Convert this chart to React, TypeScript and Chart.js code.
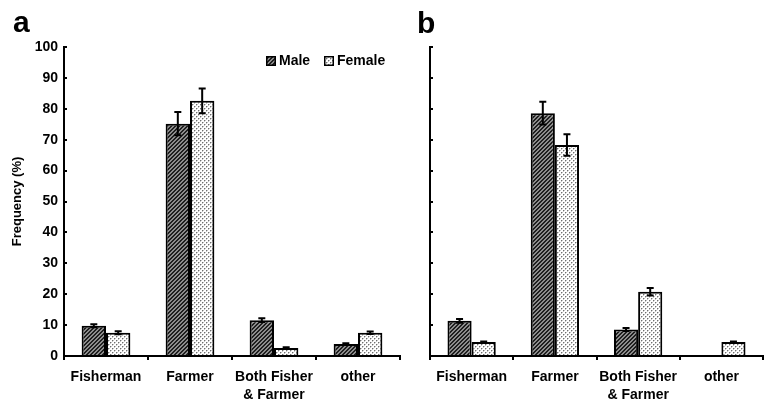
import React, { useEffect, useRef } from "react";
import { Chart, registerables } from "chart.js";

Chart.register(...registerables);

const categories: (string | string[])[] = ["Fisherman", "Farmer", ["Both Fisher", "& Farmer"], "other"];
const seriesLabels = ["Male", "Female"];
const maleA = [9.8, 75.2, 11.6, 3.9];
const maleAErr = [0.5, 3.8, 0.6, 0.2];
const femaleA = [7.5, 82.6, 2.6, 7.5];
const femaleAErr = [0.5, 4.0, 0.2, 0.4];
const maleB = [11.4, 78.6, 8.6, 0];
const maleBErr = [0.6, 3.7, 0.5, 0];
const femaleB = [4.5, 68.3, 20.8, 4.5];
const femaleBErr = [0.2, 3.5, 1.2, 0.2];
const yTicks = { min: 0, max: 100, step: 10 };
const yTitle = "Frequency (%)";
const panelLetters = ["a", "b"];

const FONT = "'Liberation Sans', Arial, Helvetica, sans-serif";

function makeMalePattern(): CanvasPattern | string {
  const c = document.createElement("canvas");
  c.width = 4;
  c.height = 4;
  const ctx = c.getContext("2d");
  if (!ctx) return "#555";
  ctx.fillStyle = "#8c8c8c";
  ctx.fillRect(0, 0, 4, 4);
  ctx.fillStyle = "#1e1e1e";
  for (let x = 0; x < 4; x++) {
    for (let y = 0; y < 4; y++) {
      const m = (x + y) % 4;
      if (m === 0 || m === 1) ctx.fillRect(x, y, 1, 1);
    }
  }
  return ctx.createPattern(c, "repeat") || "#555";
}

function makeFemalePattern(): CanvasPattern | string {
  const c = document.createElement("canvas");
  c.width = 4;
  c.height = 4;
  const ctx = c.getContext("2d");
  if (!ctx) return "#ddd";
  ctx.fillStyle = "#ffffff";
  ctx.fillRect(0, 0, 4, 4);
  ctx.fillStyle = "#707070";
  ctx.fillRect(0, 0, 1, 1);
  ctx.fillRect(2, 2, 1, 1);
  ctx.fillStyle = "#c4c4c4";
  ctx.fillRect(1, 0, 1, 1);
  ctx.fillRect(3, 2, 1, 1);
  ctx.fillRect(0, 1, 1, 1);
  ctx.fillRect(2, 3, 1, 1);
  return ctx.createPattern(c, "repeat") || "#ddd";
}

const errorBarPlugin = {
  id: "errorBars",
  afterDatasetsDraw(chart: any, _args: any, opts: any) {
    const errs: number[][] = opts.errors || [];
    const ctx = chart.ctx;
    const yScale = chart.scales.y;
    ctx.save();
    ctx.strokeStyle = "#000";
    ctx.lineWidth = 2;
    chart.data.datasets.forEach((ds: any, i: number) => {
      const meta = chart.getDatasetMeta(i);
      meta.data.forEach((el: any, j: number) => {
        const v = ds.data[j];
        const e = errs[i] ? errs[i][j] : 0;
        if (!e || v === null || v === undefined) return;
        const x = el.x;
        const yt = yScale.getPixelForValue(v + e);
        const yb = yScale.getPixelForValue(v - e);
        const cap = 3.5;
        ctx.beginPath();
        ctx.moveTo(x, yt);
        ctx.lineTo(x, yb);
        ctx.moveTo(x - cap, yt);
        ctx.lineTo(x + cap, yt);
        ctx.moveTo(x - cap, yb);
        ctx.lineTo(x + cap, yb);
        ctx.stroke();
      });
    });
    ctx.restore();
  },
};

const letterPlugin = {
  id: "panelLetter",
  afterDraw(chart: any, _args: any, opts: any) {
    if (!opts.text) return;
    const ctx = chart.ctx;
    ctx.save();
    ctx.fillStyle = "#000";
    ctx.font = `bold 30px ${FONT}`;
    ctx.textAlign = "left";
    ctx.textBaseline = "alphabetic";
    ctx.fillText(opts.text, opts.x, opts.y);
    ctx.restore();
  },
};

const legendPlugin = {
  id: "innerLegend",
  afterDraw(chart: any, _args: any, opts: any) {
    if (!opts.show) return;
    const ctx = chart.ctx;
    const area = chart.chartArea;
    const items = chart.data.datasets;
    const y = area.top + 14;
    const positions = [area.left + 202, area.left + 260];
    ctx.save();
    items.forEach((ds: any, i: number) => {
      const bx = positions[i];
      ctx.fillStyle = ds.backgroundColor;
      ctx.fillRect(bx, y - 5, 10, 10);
      ctx.strokeStyle = "#000";
      ctx.lineWidth = 1.5;
      ctx.strokeRect(bx + 0.75, y - 4.25, 8.5, 8.5);
      ctx.fillStyle = "#000";
      ctx.font = `bold 14px ${FONT}`;
      ctx.textAlign = "left";
      ctx.textBaseline = "middle";
      ctx.fillText(ds.label, bx + 13, y + 0.5);
    });
    ctx.restore();
  },
};

function buildConfig(
  male: number[],
  maleErr: number[],
  female: number[],
  femaleErr: number[],
  showLabels: boolean,
  axisWidth: number,
  padRight: number,
  letter: string,
  letterX: number,
  letterY: number
): any {
  const malePat = makeMalePattern();
  const femalePat = makeFemalePattern();
  return {
    type: "bar",
    data: {
      labels: categories,
      datasets: [
        {
          label: seriesLabels[0],
          data: male,
          backgroundColor: malePat,
          borderColor: "#000",
          borderWidth: 2,
          categoryPercentage: 0.58,
          barPercentage: 1.0,
        },
        {
          label: seriesLabels[1],
          data: female,
          backgroundColor: femalePat,
          borderColor: "#000",
          borderWidth: 2,
          categoryPercentage: 0.58,
          barPercentage: 1.0,
        },
      ],
    },
    options: {
      responsive: false,
      animation: false,
      layout: { padding: { left: 0, right: padRight, top: 47, bottom: 0 } },
      plugins: {
        legend: { display: false },
        tooltip: { enabled: false },
        errorBars: { errors: [maleErr, femaleErr] },
        panelLetter: { text: letter, x: letterX, y: letterY },
        innerLegend: { show: showLabels },
      },
      scales: {
        x: {
          grid: {
            display: true,
            drawOnChartArea: false,
            drawTicks: true,
            tickLength: 4,
            color: "#000",
            lineWidth: 2,
            offset: true,
          },
          border: { display: true, color: "#000", width: 2 },
          ticks: {
            color: "#000",
            font: { family: FONT, size: 14, weight: "bold", lineHeight: 1.3 },
            padding: 8,
            maxRotation: 0,
            autoSkip: false,
          },
          afterFit: (s: any) => {
            s.height = 44;
          },
        },
        y: {
          min: yTicks.min,
          max: yTicks.max,
          grid: {
            display: true,
            drawOnChartArea: false,
            drawTicks: true,
            tickLength: -3,
            color: "#000",
            lineWidth: 2,
          },
          border: { display: true, color: "#000", width: 2 },
          ticks: {
            stepSize: yTicks.step,
            color: showLabels ? "#000" : "rgba(0,0,0,0)",
            font: { family: FONT, size: 14, weight: "bold" },
            padding: 9,
          },
          title: {
            display: showLabels,
            text: yTitle,
            color: "#000",
            font: { family: FONT, size: 13, weight: "bold" },
            padding: { top: 10, bottom: 0 },
          },
          afterFit: (s: any) => {
            s.width = axisWidth;
          },
        },
      },
    },
    plugins: [errorBarPlugin, letterPlugin, legendPlugin],
  };
}

export default function App() {
  const refA = useRef<HTMLCanvasElement | null>(null);
  const refB = useRef<HTMLCanvasElement | null>(null);

  useEffect(() => {
    if (!refA.current || !refB.current) return;
    const a = new Chart(
      refA.current,
      buildConfig(maleA, maleAErr, femaleA, femaleAErr, true, 64, 5, panelLetters[0], 13, 32)
    );
    const b = new Chart(
      refB.current,
      buildConfig(maleB, maleBErr, femaleB, femaleBErr, false, 25, 4, panelLetters[1], 12, 33)
    );
    return () => {
      a.destroy();
      b.destroy();
    };
  }, []);

  return (
    <div
      style={{
        position: "fixed",
        left: 0,
        top: 0,
        width: 767,
        height: 400,
        background: "#fff",
        overflow: "hidden",
      }}
    >
      <canvas
        ref={refA}
        width={405}
        height={400}
        style={{ position: "absolute", left: 0, top: 0, width: 405, height: 400 }}
      />
      <canvas
        ref={refB}
        width={362}
        height={400}
        style={{ position: "absolute", left: 405, top: 0, width: 362, height: 400 }}
      />
    </div>
  );
}
